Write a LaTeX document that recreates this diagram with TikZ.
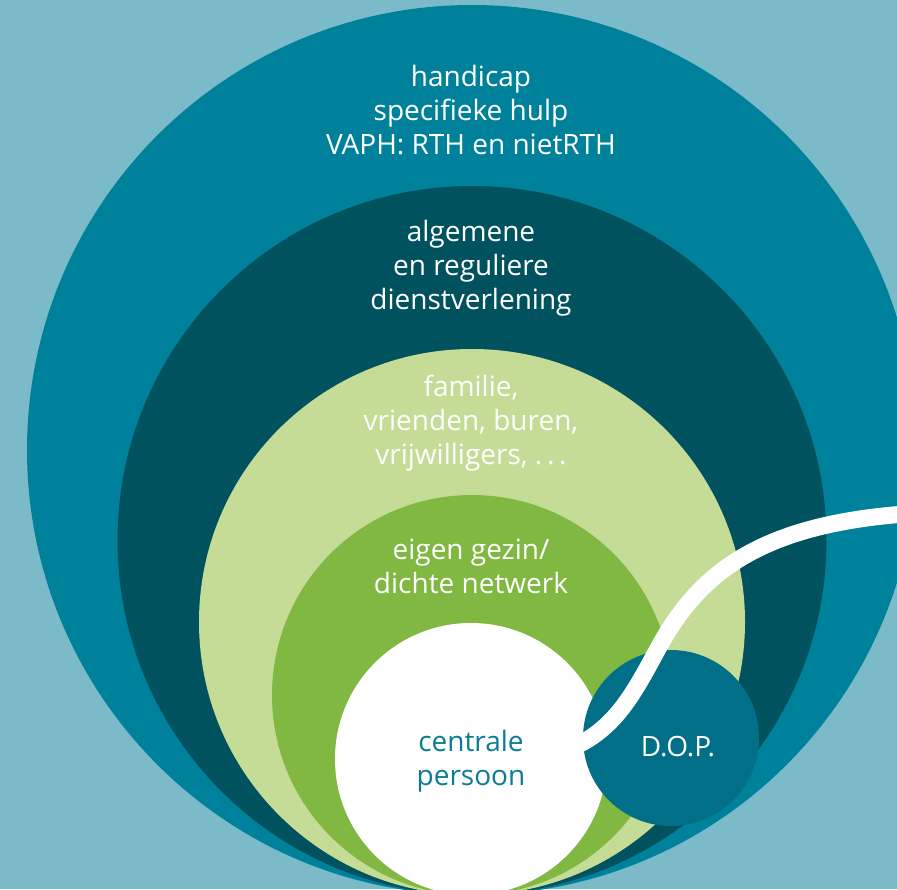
\documentclass[tikz,border=0pt]{standalone}
\usepackage{fontspec}
\setmainfont{Open Sans}
\definecolor{bgc}{HTML}{7BBAC9}
\definecolor{outerc}{HTML}{00819B}
\definecolor{darkc}{HTML}{00525F}
\definecolor{lgreen}{HTML}{C5DC97}
\definecolor{greenc}{HTML}{81B842}
\definecolor{dopc}{HTML}{006F87}
\definecolor{cptext}{HTML}{0A7D92}
\begin{document}
\begin{tikzpicture}[x=1pt,y=-1pt,
  lbl/.style={align=center,text=white,font=\fontsize{28}{34}\selectfont,inner sep=0pt}]
\fill[bgc] (0,0) rectangle (897,889);
\useasboundingbox (0,0) rectangle (897,889);
\fill[outerc] (472,450) circle[radius=445];
\fill[darkc] (472,540.5) circle[radius=354.5];
\fill[lgreen] (472,622) circle[radius=273];
\fill[greenc] (472,695) circle[radius=200];
\fill[white] (471,759) circle[radius=136];
\fill[dopc] (671,738) circle[radius=88];
\coordinate (cpin) at (560,752);
\coordinate (mid) at (660,645);
\coordinate (exit) at (905,514);
\draw[white,line width=17pt] (cpin) .. controls (615,735) and (635,690) .. (mid)
  .. controls (700,573) and (760,525) .. (exit);
\node[lbl] (t1) at (471,110) {handicap\\specifieke hulp\\VAPH: RTH en nietRTH};
\node[lbl] (t2) at (471,268) {algemene\\en reguliere\\dienstverlening};
\node[lbl] (t3) at (471,423) {familie,\\vrienden, buren,\\vrijwilligers, .\,.\,.};
\node[lbl] (t4) at (471,566) {eigen gezin/\\dichte netwerk};
\node[lbl,text=cptext] (cp) at (471,761) {centrale\\persoon};
\node[lbl] (dop) at (678,747) {D.O.P.};
\end{tikzpicture}
\end{document}
